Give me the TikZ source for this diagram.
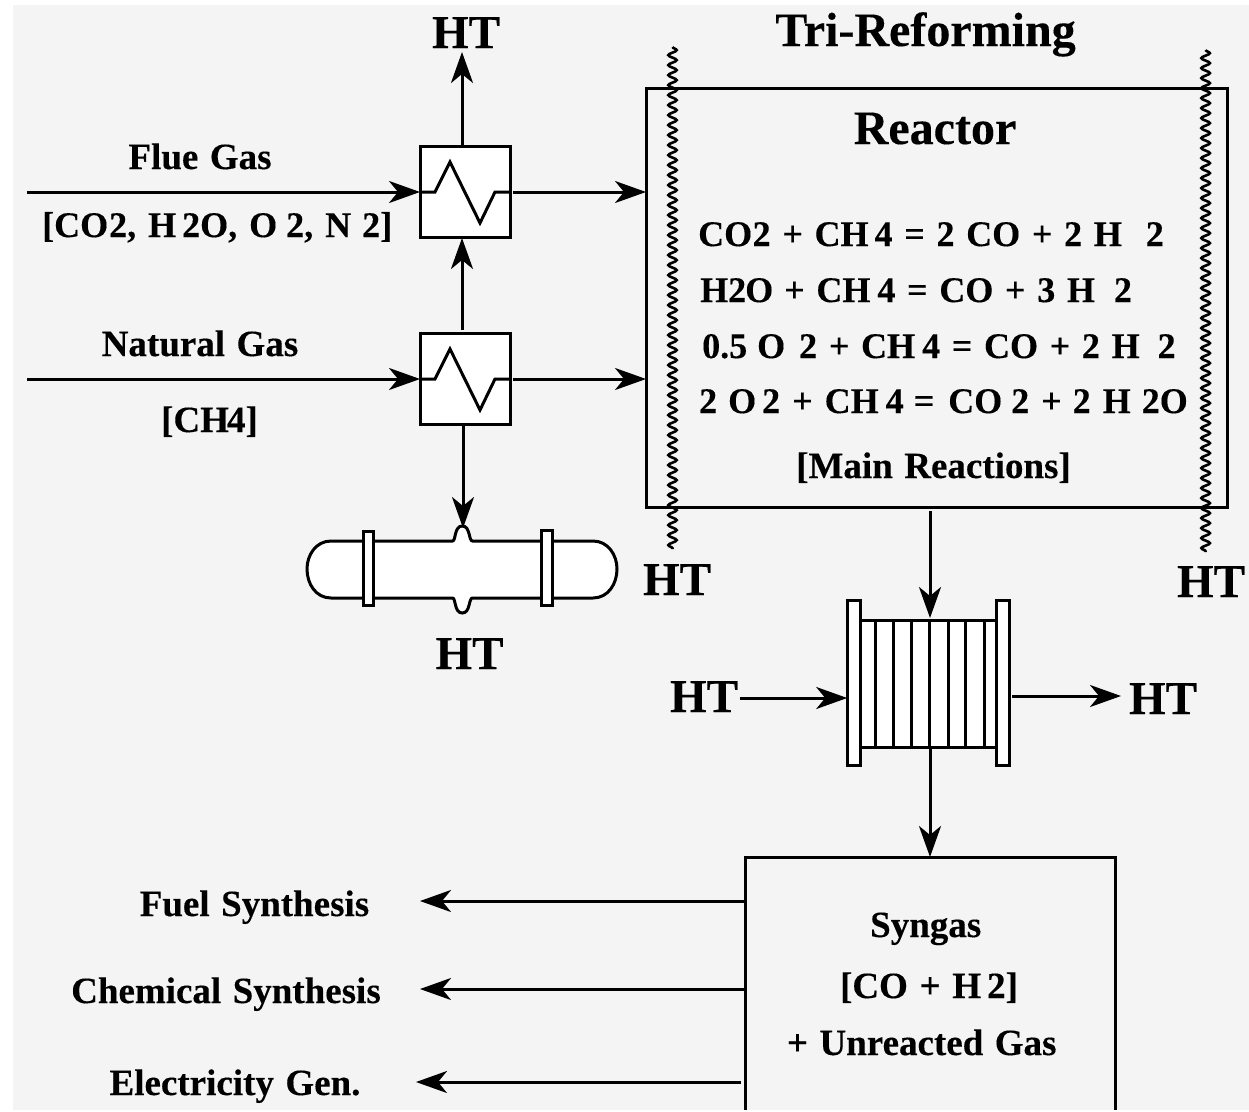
\documentclass[tikz,border=0pt]{standalone}
\usepackage{fontspec}
\setmainfont{Liberation Serif}[BoldFeatures={FakeBold=0.25}]
\usetikzlibrary{arrows.meta,decorations.pathmorphing}
\definecolor{panel}{HTML}{F4F4F4}
\newcommand\g[1][11.7]{\hspace{#1pt}}
\newcommand\txtM{\fontsize{37}{40}\bfseries\selectfont\spaceskip=11.5pt\relax}
\newcommand\txtE{\fontsize{36}{40}\bfseries\selectfont\spaceskip=12pt\relax}
\newcommand\txtL{\fontsize{47}{52}\bfseries\selectfont}
\newcommand\txtT{\fontsize{48}{52}\bfseries\selectfont}
\tikzset{
  ln/.style={line width=3pt,draw=black},
  arr/.style={ln,-{Stealth[length=31pt,width=22pt,inset=9pt]}},
  hxbox/.style={draw=black,line width=3pt,fill=white,minimum width=90pt,minimum height=91pt,inner sep=0pt,outer sep=0pt},
  plain/.style={draw=black,line width=3pt,inner sep=0pt,outer sep=0pt},
  wavy/.style={draw=black,line width=2.6pt,decorate,decoration={snake,segment length=10pt,amplitude=4.2pt}},
  flange/.style={draw=black,line width=3pt,fill=white},
  lab/.style={inner sep=0pt,anchor=base,font=\txtM},
  labw/.style={inner sep=0pt,anchor=base west,font=\txtE},
  big/.style={inner sep=0pt,anchor=base,font=\txtL},
  ttl/.style={inner sep=0pt,anchor=base,font=\txtT},
}
\begin{document}
\begin{tikzpicture}[x=1pt,y=-1pt]
\useasboundingbox (0,0) rectangle (1249,1111);
\fill[panel] (13,5) rectangle (1249,1110);
% named parts
\node[hxbox] (hx1) at (465,192) {};
\node[hxbox] (hx2) at (465,379) {};
\node[plain,minimum width=581pt,minimum height=419pt] (reactor) at (936.5,298.3) {};
\coordinate (fluein) at (27,192);
\coordinate (natin) at (27,379);
\coordinate (topout) at (462,52);
\coordinate (drumtop) at (463,528);
\coordinate (synNW) at (745,857);
\coordinate (synNE) at (1115.7,857);
\coordinate (f1) at (745,901);
\coordinate (f2) at (745,989);
\coordinate (f3) at (741,1082);
\coordinate (o1) at (420,901);
\coordinate (o2) at (420,989);
\coordinate (o3) at (416,1082);
\coordinate (wl1) at (672.5,47);
\coordinate (wl2) at (672.5,549);
\coordinate (wr1) at (1205.6,50);
\coordinate (wr2) at (1205.6,552);
% zigzags
\draw[line width=3pt] (420,192) -- (435,192) -- (450,162) -- (480,223) -- (495,192) -- (510,192);
\draw[line width=3pt] (420,379) -- (435,379) -- (450,349) -- (480,410) -- (495,379) -- (510,379);
% drum
\draw[line width=3pt,fill=white] (331,541) -- (452.5,541)
  .. controls (456,541) and (454,526) .. (462.3,526)
  .. controls (470.5,526) and (468.5,541) .. (472.5,541)
  -- (593,541) .. controls (608,541) and (617,555) .. (617,569)
  .. controls (617,584) and (608,598) .. (593,598)
  -- (472.5,598) .. controls (468.5,598) and (470.5,613) .. (462.3,613)
  .. controls (454,613) and (456,598) .. (452.5,598)
  -- (331,598) .. controls (316,598) and (307,584) .. (307,569)
  .. controls (307,555) and (316,541) .. (331,541) -- cycle;
\draw[flange] (363,531) rectangle (373.3,605.5);
\draw[flange] (541.8,530.5) rectangle (552.3,605);
% condenser
\draw[line width=3pt,fill=white] (860,620.3) rectangle (997,747.7);
\foreach \vx in {875.4,893.7,911.7,929.7,948,965.7,984.4}
  \draw[line width=3pt] (\vx,620.3) -- (\vx,747.7);
\node[flange,inner sep=0pt,outer sep=0pt,minimum width=13pt,minimum height=165pt] (fl) at (853.7,682.7) {};
\node[flange,inner sep=0pt,outer sep=0pt,minimum width=13pt,minimum height=165pt] (fr) at (1002.8,682.7) {};
\coordinate (condT) at (930,618);
\coordinate (condB) at (930,748);
% syngas box
\draw[ln,line cap=butt] (745,1110) -- (synNW) -- (synNE) -- (1115.7,1110);
% wavy lines
\draw[wavy] (wl1) -- (wl2);
\draw[wavy] (wr1) -- (wr2);
% arrows
\draw[arr] (fluein) -- (hx1.west);
\draw[arr] (natin) -- (hx2.west);
\draw[arr] ([xshift=3pt]hx1.east) -- (reactor.west |- hx1.east);
\draw[arr] ([xshift=3pt]hx2.east) -- (reactor.west |- hx2.east);
\draw[arr] (topout |- hx1.north) -- (topout);
\draw[arr] (462,330) -- (462,238);
\draw[arr] (463,424) -- (drumtop);
\draw[arr] ([yshift=-3pt]reactor.south -| condT) -- (condT);
\draw[arr] (condB) -- (condB |- synNW);
\draw[arr] (f1) -- (o1);
\draw[arr] (f2) -- (o2);
\draw[arr] (f3) -- (o3);
% labels
\node[big] (httop) at (466,48) {HT};
\node[ttl] (title) at (925.5,46) {Tri-Reforming};
\node[ttl] (rlabel) at (935,144) {Reactor};
\node[lab] (flue) at (200,169) {Flue Gas};
\node[labw] (fluec) at (42,237) {[CO\g[1]2, H\g[6]2O, O\g[9]2, N\g[11]2]};
\node[lab] (nat) at (200,356) {Natural Gas};
\node[lab] (natc) at (209.5,432) {[CH\g[-2]4]};
\node[labw] (e1) at (698,246) {CO\g[0.5]2\g+\g CH\g[6]4\g=\g 2\g CO\g+\g 2\g H\g[24]2};
\node[labw] (e2) at (700,302) {H\g[0]2\g[-1]O\g[11]+\g CH\g[7]4\g=\g CO\g+\g 3\g H\g[19]2};
\node[labw] (e3) at (702,358) {0.5\g[10]O\g[14]2\g+\g CH\g[7]4\g=\g CO\g+\g 2\g H\g[18]2};
\node[labw] (e4) at (699,413) {2\g[11]O\g[6]2\g[12]+\g[12]CH\g[7]4\g[10]=\g[14]CO\g[9]2\g[12]+\g[11]2\g[12]H\g[11]2O};
\node[lab] (mainr) at (933.5,478) {[Main Reactions]};
\node[big] (ht2) at (677,595) {HT};
\node[big] (ht3) at (1211,597) {HT};
\node[big] (ht4) at (469.5,669) {HT};
\node[big] (ht5) at (704,712) {HT};
\node[big] (ht6) at (1163,714) {HT};
\coordinate (htinS) at (739.5,698);
\coordinate (htoutE) at (1121,696);
\draw[arr] (htinS) -- (fl.west |- htinS);
\draw[arr] (1012,696) -- (htoutE);
\node[lab] (syn) at (925.7,937) {Syngas};
\node[lab] (sync) at (929,998) {[CO\g+\g H\g[6]2]};
\node[lab] (unre) at (921.7,1055) {+ Unreacted Gas};
\node[lab] (fuel) at (254.5,916) {Fuel Synthesis};
\node[lab] (chem) at (226,1003) {Chemical Synthesis};
\node[lab] (elec) at (235,1095) {Electricity Gen.};
\end{tikzpicture}
\end{document}
